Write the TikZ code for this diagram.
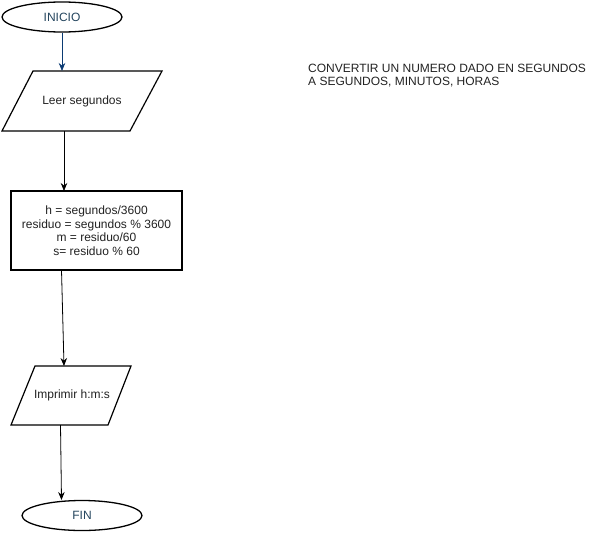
\documentclass[tikz,border=0pt]{standalone}
\usepackage{fontspec}
\setmainfont{Liberation Sans}
\usetikzlibrary{shapes.geometric,arrows.meta}
\definecolor{termtext}{HTML}{23445D}
\definecolor{bluearrow}{HTML}{0B3B73}
\definecolor{txtgray}{HTML}{222222}
\tikzset{
  term/.style={ellipse, draw=black, line width=1.3pt, minimum width=120pt, minimum height=30pt, inner sep=0pt, text=termtext, font=\fontsize{12}{14}\selectfont},
  para/.style={draw=black, line width=1.2pt, line join=miter},
  proc/.style={rectangle, draw=black, line width=1.7pt, minimum width=171pt, minimum height=79pt, align=center, text=txtgray, font=\fontsize{12}{13.5}\selectfont},
  lbl/.style={text=txtgray, font=\fontsize{12}{14}\selectfont, inner sep=0pt},
  arr/.style={-{Stealth[length=8pt,width=6.5pt]}, line width=0.8pt, black},
  bluearr/.style={-{Stealth[length=8pt,width=6.5pt]}, line width=0.8pt, bluearrow}
}
\begin{document}
\begin{tikzpicture}[x=1pt,y=-1pt]
\useasboundingbox (0,0) rectangle (596,532);
% INICIO
\node[term] (inicio) at (62,17) {INICIO};
% Leer segundos parallelogram
\draw[para] (33,71) -- (162,71) -- (130,131) -- (2,131) -- cycle;
\node[lbl] (leer) at (82,101) {Leer segundos};
\coordinate (leertop) at (62,71);
\coordinate (leerbot) at (64,131);
% process box
\node[proc] (proc) at (96.5,230.5) {h = segundos/3600\\residuo = segundos \% 3600\\m = residuo/60\\s= residuo \% 60};
\coordinate (proctop) at (64,191);
\coordinate (procbot) at (61.5,270);
% Imprimir parallelogram
\draw[para] (35,366) -- (131,366) -- (108,425) -- (11,425) -- cycle;
\node[lbl] (imp) at (72,395.5) {Imprimir h:m:s};
\coordinate (imptop) at (64,366);
\coordinate (impbot) at (60.5,425);
% FIN
\node[term] (fin) at (82,515.5) {FIN};
\coordinate (fintop) at (61.5,500);
% connectors
\draw[bluearr] (inicio.south) -- (leertop);
\draw[arr] (leerbot) -- (proctop);
\draw[arr] (procbot) -- (imptop);
\draw[arr] (impbot) -- (fintop);
% title text
\node[lbl, anchor=north west, align=left, font=\fontsize{12}{13}\selectfont] (title) at (308,64) {CONVERTIR UN NUMERO DADO EN SEGUNDOS\\A SEGUNDOS, MINUTOS, HORAS};
\end{tikzpicture}
\end{document}
